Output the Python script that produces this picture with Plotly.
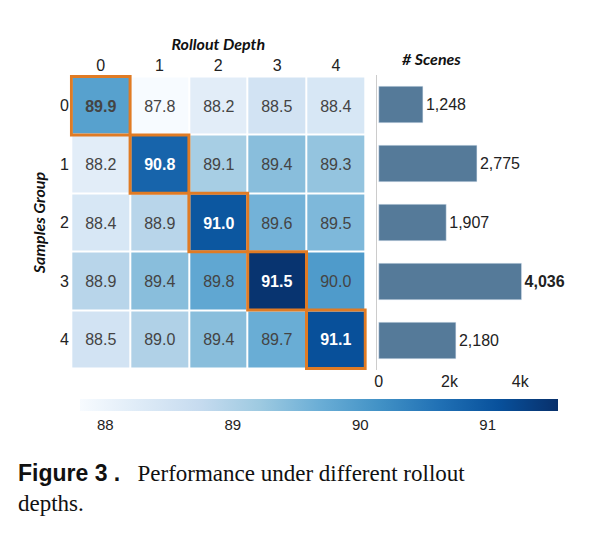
import plotly.graph_objects as go

depths = ["0", "1", "2", "3", "4"]
groups = ["0", "1", "2", "3", "4"]
perf = [
    [89.9, 87.8, 88.2, 88.5, 88.4],
    [88.2, 90.8, 89.1, 89.4, 89.3],
    [88.4, 88.9, 91.0, 89.6, 89.5],
    [88.9, 89.4, 89.8, 91.5, 90.0],
    [88.5, 89.0, 89.4, 89.7, 91.1],
]
scenes = [1248, 2775, 1907, 4036, 2180]

W, H = 596, 537
OX, OY = 10, 8
def fx(p): return (p - OX) / W
def fy(p): return 1 - (p - OY) / H

text = [[(f"<b>{v:.1f}</b>" if i == j else f"{v:.1f}") for j, v in enumerate(row)] for i, row in enumerate(perf)]

fig = go.Figure()
fig.add_trace(go.Heatmap(
    z=perf, x=depths, y=groups, colorscale="Blues", zmin=87.8, zmax=91.55,
    xgap=2, ygap=2, text=text, texttemplate="%{text}",
    textfont=dict(size=16, family="Liberation Sans"),
    colorbar=dict(orientation="h", x=fx(70), xanchor="left", len=500/W, lenmode="fraction",
                  y=fy(399), yanchor="top", thickness=12, outlinewidth=0, ypad=0,
                  tickvals=[88, 89, 90, 91], ticks="", ticklabelposition="outside bottom",
                  tickfont=dict(size=15, family="Liberation Sans", color="#222")),
    xaxis="x", yaxis="y", hoverinfo="skip"))
for i in range(5):
    fig.add_shape(type="rect", x0=i - 0.5, x1=i + 0.5, y0=i - 0.5, y1=i + 0.5,
                  xref="x", yref="y", line=dict(color="#E07B24", width=3))

fig.add_trace(go.Bar(
    x=scenes, y=groups, orientation="h", marker_color="#557A99", width=0.62,
    text=[(f"<b>{v:,}</b>" if v == max(scenes) else f"{v:,}") for v in scenes],
    textposition="outside", textfont=dict(size=16, family="Liberation Sans", color="#222"),
    cliponaxis=False, xaxis="x2", yaxis="y2", hoverinfo="skip"))

fig.update_layout(
    width=W, height=H, margin=dict(l=0, r=0, t=0, b=0),
    plot_bgcolor="white", paper_bgcolor="white", showlegend=False,
    xaxis=dict(domain=[fx(70), fx(368)], side="top", showgrid=False, ticks="",
               tickfont=dict(size=16, family="Liberation Sans", color="#222"),
               title=dict(text="<b><i>Rollout Depth</i></b>", font=dict(size=16, family="Lato", color="#111"), standoff=2),
               anchor="y"),
    yaxis=dict(domain=[fy(370), fy(75)], autorange="reversed", showgrid=False, ticks="",
               tickfont=dict(size=16, family="Liberation Sans", color="#222"),
               title=dict(text="<b><i>Samples Group</i></b>", font=dict(size=16, family="Lato", color="#111"), standoff=10),
               anchor="x"),
    xaxis2=dict(domain=[fx(378), fx(560)], range=[-56, 5070], tickvals=[0, 2000, 4000],
                ticktext=["0", "2k", "4k"], showgrid=False, zeroline=False, ticks="",
                tickfont=dict(size=16, family="Liberation Sans", color="#222"), anchor="y2"),
    yaxis2=dict(domain=[fy(370), fy(75)], autorange="reversed", showticklabels=False,
                showgrid=False, showline=True, linecolor="#ccc", anchor="x2"),
    annotations=[
        dict(text="<b><i># Scenes</i></b>", x=fx(465), y=fy(47), xref="paper", yref="paper",
             showarrow=False, font=dict(size=16, family="Lato", color="#111")),
        dict(text="<span style='font-family:Liberation Sans'><b>Figure 3 .</b></span>&nbsp;&nbsp;&nbsp;Performance under different rollout<br>depths.",
             x=fx(16), y=fy(458), xref="paper", yref="paper", xanchor="left", yanchor="top",
             align="left", showarrow=False, font=dict(size=23, family="Liberation Serif", color="#111")),
    ],
)
fig.write_html("out.html")
